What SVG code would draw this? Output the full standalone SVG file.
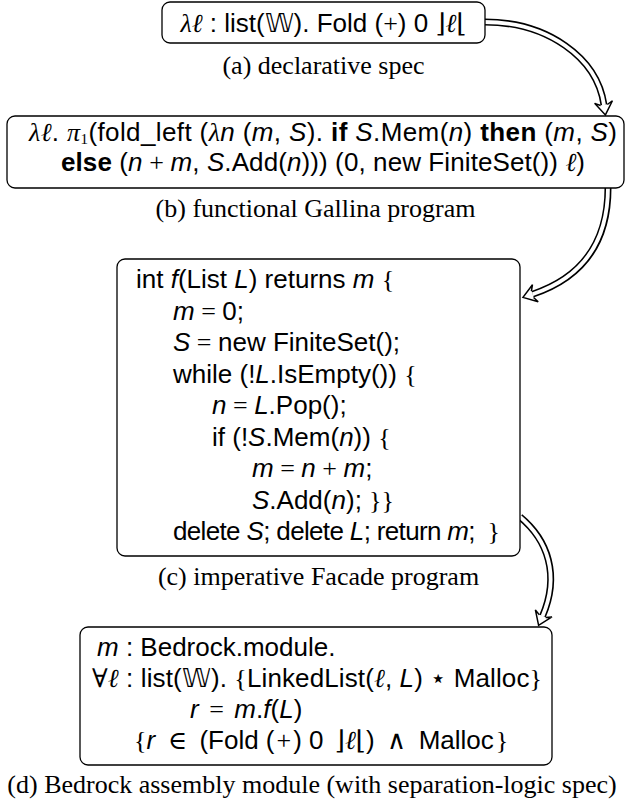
<svg xmlns="http://www.w3.org/2000/svg" xmlns:xlink="http://www.w3.org/1999/xlink" width="629" height="803" viewBox="0 0 629 803">
<style>
.box{fill:#fff;stroke:#000;stroke-width:1.3}
.t{font-family:"Liberation Sans",Arial,sans-serif;font-size:26px;fill:#000}
.i{font-style:italic}
.b{font-weight:bold}
.m{font-family:"Liberation Serif","DejaVu Serif",serif}
.mi{font-family:"Liberation Serif","DejaVu Serif",serif;font-style:italic}
.l{font-family:"DejaVu Serif",serif;font-style:italic}
.cap{font-family:"Liberation Serif","Times New Roman",serif;font-size:26px;fill:#000;text-anchor:middle}
.sh1{fill:none;stroke:#000;stroke-width:7}
.sh2{fill:none;stroke:#fff;stroke-width:3.8}
</style>
<defs>
<path id="ah" d="M-10,-3.4 L-13,-9 L0,0 L-13,9 L-10,3.4" fill="#fff" stroke="#000" stroke-width="1.5" stroke-linejoin="miter"/>
</defs>
<g id="connectors">
<path class="sh1" d="M485 22 C547 22 597 57 604 105"/>
<path class="sh2" d="M484 22 C547 22 597 57 604 105"/>
<use xlink:href="#ah" transform="translate(605.4 114.9) rotate(81.7)"/>
<path class="sh1" d="M608 188 C608 250 575 280 532.5 294.2"/>
<path class="sh2" d="M608 187 C608 250 575 280 532.5 294.2"/>
<use xlink:href="#ah" transform="translate(523 297.4) rotate(161.5)"/>
<path class="sh1" d="M520 517 C548 540 560 575 542.5 616.2"/>
<path class="sh2" d="M519 516 C548 540 560 575 542.5 616.2"/>
<use xlink:href="#ah" transform="translate(538.6 625.4) rotate(113)"/>
</g>
<g id="node-a">
<rect class="box" x="162" y="2" width="323" height="41" rx="8"/>
<text class="t" x="323.5" y="32" text-anchor="middle"><tspan class="mi">λ</tspan><tspan class="l">ℓ</tspan> : list(𝕎). Fold (<tspan class="m">+</tspan>) 0 <tspan class="m">⌋</tspan><tspan class="l">ℓ</tspan><tspan class="m">⌊</tspan></text>
<text class="cap" x="323.5" y="74">(a) declarative spec</text>
</g>
<g id="node-b">
<rect class="box" x="7" y="116" width="617" height="72" rx="8"/>
<text class="t" x="323" y="141" text-anchor="middle" textLength="588" lengthAdjust="spacing"><tspan class="mi">λ</tspan><tspan class="l">ℓ</tspan>. <tspan class="mi">π</tspan><tspan class="m" font-size="15" dy="3">1</tspan><tspan dy="-3">(fold_left (</tspan><tspan class="mi">λ</tspan><tspan class="i">n</tspan> (<tspan class="i">m</tspan>, <tspan class="i">S</tspan>). <tspan class="b">if</tspan> <tspan class="i">S</tspan>.Mem(<tspan class="i">n</tspan>) <tspan class="b">then</tspan> (<tspan class="i">m</tspan>, <tspan class="i">S</tspan>)</text>
<text class="t" x="323" y="171" text-anchor="middle" textLength="524" lengthAdjust="spacing"><tspan class="b">else</tspan> (<tspan class="i">n</tspan><tspan class="m"> + </tspan><tspan class="i">m</tspan>, <tspan class="i">S</tspan>.Add(<tspan class="i">n</tspan>))) (0, new FiniteSet()) <tspan class="l">ℓ</tspan>)</text>
<text class="cap" x="315.5" y="217">(b) functional Gallina program</text>
</g>
<g id="node-c">
<rect class="box" x="117" y="259" width="403" height="297" rx="8"/>
<text class="t" x="136" y="288">int <tspan class="i">f</tspan>(List <tspan class="i">L</tspan>) returns <tspan class="i">m</tspan> <tspan class="m">{</tspan></text>
<text class="t" x="173" y="319.5"><tspan class="i">m</tspan><tspan class="m"> = </tspan>0;</text>
<text class="t" x="173" y="351"><tspan class="i">S</tspan><tspan class="m"> = </tspan>new FiniteSet();</text>
<text class="t" x="173" y="382.5">while (!<tspan class="i">L</tspan>.IsEmpty()) <tspan class="m">{</tspan></text>
<text class="t" x="212" y="414"><tspan class="i">n</tspan><tspan class="m"> = </tspan><tspan class="i">L</tspan>.Pop();</text>
<text class="t" x="212" y="445.5">if (!<tspan class="i">S</tspan>.Mem(<tspan class="i">n</tspan>)) <tspan class="m">{</tspan></text>
<text class="t" x="252" y="477"><tspan class="i">m</tspan><tspan class="m"> = </tspan><tspan class="i">n</tspan><tspan class="m"> + </tspan><tspan class="i">m</tspan>;</text>
<text class="t" x="252" y="508.5"><tspan class="i">S</tspan>.Add(<tspan class="i">n</tspan>); <tspan class="m">}}</tspan></text>
<text class="t" x="173" y="540" textLength="327" lengthAdjust="spacing">delete <tspan class="i">S</tspan>; delete <tspan class="i">L</tspan>; return <tspan class="i">m</tspan>; <tspan class="m" dx="6">}</tspan></text>
<text class="cap" x="318.5" y="585">(c) imperative Facade program</text>
</g>
<g id="node-d">
<rect class="box" x="80" y="627" width="472" height="138" rx="8"/>
<text class="t" x="97" y="656"><tspan class="i">m</tspan> : Bedrock.module.</text>
<text class="t" x="92" y="687" textLength="450" lengthAdjust="spacing"><tspan class="m">∀</tspan><tspan class="l">ℓ</tspan> : list(𝕎). <tspan class="m">{</tspan>LinkedList(<tspan class="l">ℓ</tspan>, <tspan class="i">L</tspan>) <tspan class="m">⋆</tspan> Malloc<tspan class="m">}</tspan></text>
<text class="t" x="190" y="718"><tspan class="i">r</tspan><tspan class="m" dx="4"> = </tspan><tspan class="i" dx="4">m</tspan>.<tspan class="i">f</tspan>(<tspan class="i">L</tspan>)</text>
<text class="t" x="134" y="749"><tspan class="m">{</tspan><tspan class="i">r</tspan><tspan class="m" dx="6"> ∈ </tspan><tspan dx="6">(Fold (</tspan><tspan class="m" dx="2">+</tspan><tspan dx="2">) 0 </tspan><tspan class="m" dx="4">⌋</tspan><tspan class="l">ℓ</tspan><tspan class="m">⌊</tspan>)<tspan class="m" dx="6"> ∧ </tspan><tspan dx="6">Malloc</tspan><tspan class="m" dx="2">}</tspan></text>
<text class="cap" x="312" y="793">(d) Bedrock assembly module (with separation-logic spec)</text>
</g>
</svg>
